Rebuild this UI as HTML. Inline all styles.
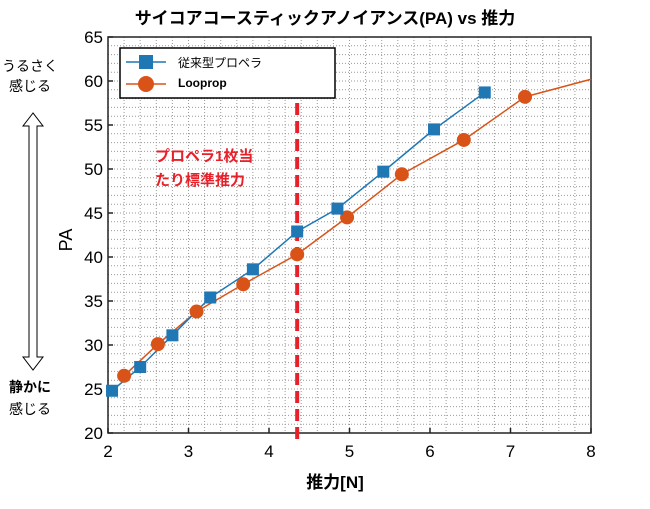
<!DOCTYPE html>
<html><head><meta charset="utf-8"><style>
body{margin:0;background:#fff;}
svg text{font-family:"Liberation Sans","Noto Sans CJK JP",sans-serif;}
</style></head><body>
<svg id="c" width="650" height="504">
<text x="325" y="24" text-anchor="middle" font-size="17" font-weight="bold">サイコアコースティックアノイアンス(PA) vs 推力</text>
<g id="grid"></g><g id="axes"></g><g id="series"></g>
<text x="30" y="71" text-anchor="middle" font-size="14">うるさく</text>
<text x="30" y="91" text-anchor="middle" font-size="14">感じる</text>
<path d="M33,113 L23,126 L29,126 L29,357 L23,357 L33,370 L43,357 L37,357 L37,126 L43,126 Z" fill="#fff" stroke="#000" stroke-width="1"/>
<text x="30" y="392" text-anchor="middle" font-size="14" font-weight="bold">静かに</text>
<text x="30" y="414" text-anchor="middle" font-size="14">感じる</text>
<text x="72" y="240" text-anchor="middle" font-size="18" transform="rotate(-90 72 240)">PA</text>
<text x="335" y="488" text-anchor="middle" font-size="17" font-weight="bold">推力[N]</text>
<text x="155" y="161" font-size="15" font-weight="bold" fill="#e8202a">プロペラ1枚当</text>
<text x="155" y="185" font-size="15" font-weight="bold" fill="#e8202a">たり標準推力</text>
<g>
<rect x="120" y="48" width="215" height="50" fill="#fff" stroke="#000" stroke-width="1.5"/>
<line x1="126" y1="62" x2="166" y2="62" stroke="#1f77b4" stroke-width="1.5"/>
<rect x="139" y="55" width="14" height="14" fill="#1f77b4"/>
<text x="178" y="67" font-size="12">従来型プロペラ</text>
<line x1="126" y1="84" x2="166" y2="84" stroke="#d95319" stroke-width="1.5"/>
<circle cx="146" cy="84" r="8" fill="#d95319"/>
<text x="178" y="87" font-size="12" font-weight="bold">Looprop</text>
</g>
</svg>
<script>
const blueX=[2.05,2.4,2.8,3.27,3.8,4.35,4.85,5.42,6.05,6.68];
const blueY=[24.8,27.5,31.1,35.4,38.6,42.9,45.5,49.7,54.5,58.7];
const orangeX=[2.2,2.62,3.1,3.68,4.35,4.97,5.65,6.42,7.18];
const orangeY=[26.5,30.1,33.8,36.9,40.3,44.5,49.4,53.3,58.2];
const orangeTailX=[7.18,8.0];
const orangeTailY=[58.2,60.2];
const xTicks=[2,3,4,5,6,7,8];
const yTicks=[20,25,30,35,40,45,50,55,60,65];
const refX=4.35;
const X0=108,X1=591,Y0=433,Y1=37;
const sx=v=>X0+(v-2)/6*(X1-X0);
const sy=v=>Y0-(v-20)/45*(Y0-Y1);
const NS="http://www.w3.org/2000/svg";
function mk(t,a,p){const e=document.createElementNS(NS,t);for(const k in a)e.setAttribute(k,a[k]);p.appendChild(e);return e;}
const g=document.getElementById('grid'),ax=document.getElementById('axes'),s=document.getElementById('series');
for(let v=2;v<=8.001;v+=0.2){const l=mk('line',{x1:sx(v),x2:sx(v),y1:Y1,y2:Y0,stroke:'#999','stroke-width':1,'stroke-dasharray':'1,2'},g);

}
for(let v=20;v<=65;v+=1){const l=mk('line',{x1:X0,x2:X1,y1:sy(v),y2:sy(v),stroke:'#999','stroke-width':1,'stroke-dasharray':'1,2'},g);

}
const fr=mk('rect',{x:X0,y:Y1,width:X1-X0,height:Y0-Y1,fill:'none',stroke:'#222','stroke-width':1.5},ax);


xTicks.forEach(v=>{const t=mk('text',{x:sx(v),y:Y0+24,'text-anchor':'middle','font-size':17},ax);t.textContent=v;


const k=mk('line',{x1:sx(v),x2:sx(v),y1:Y0,y2:Y0-5,stroke:'#222','stroke-width':1.5},ax);

});
yTicks.forEach(v=>{const t=mk('text',{x:X0-5,y:sy(v)+6,'text-anchor':'end','font-size':17},ax);t.textContent=v;


const k=mk('line',{x1:X0,x2:X0+5,y1:sy(v),y2:sy(v),stroke:'#222','stroke-width':1.5},ax);

});
const rl=mk('line',{x1:sx(refX),x2:sx(refX),y1:103,y2:441,stroke:'#e8202a','stroke-width':4,'stroke-dasharray':'12,6'},s);


function pts(xs,ys){return xs.map((x,i)=>sx(x)+','+sy(ys[i])).join(' ');}
const ol=mk('polyline',{points:pts(orangeX,orangeY),fill:'none',stroke:'#d95319','stroke-width':1.5},s);


const ot=mk('polyline',{points:pts(orangeTailX,orangeTailY),fill:'none',stroke:'#d95319','stroke-width':1.5},s);


const bl=mk('polyline',{points:pts(blueX,blueY),fill:'none',stroke:'#1f77b4','stroke-width':1.5},s);


orangeX.forEach((x,i)=>{const c=mk('circle',{cx:sx(x),cy:sy(orangeY[i]),r:7,fill:'#d95319'},s);

});
blueX.forEach((x,i)=>{const r=mk('rect',{x:sx(x)-6,y:sy(blueY[i])-6,width:12,height:12,fill:'#1f77b4'},s);

});
</script>
</body></html>
